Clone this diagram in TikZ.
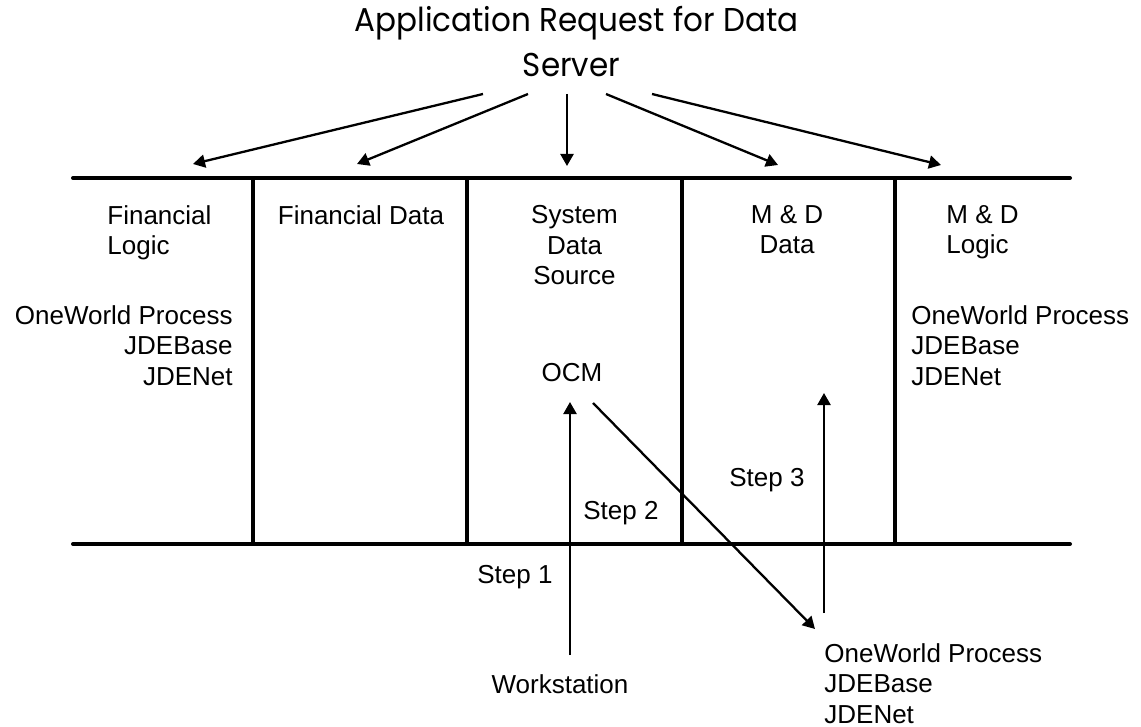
\documentclass[tikz,border=0pt]{standalone}
\usepackage{fontspec}
\setmainfont{Liberation Sans}
\newfontfamily\titlefont{Poppins}[FakeStretch=0.94]
\usetikzlibrary{arrows.meta}
\usetikzlibrary{positioning}
\tikzset{x=0.5pt, y=-0.5pt,
    every node/.style={
        inner sep=0pt,
        font=\fontsize{13}{15.25}\selectfont},
    heading/.style={
        font=\titlefont\fontsize{16.5}{19}\selectfont},
    bar/.style={
        line width=2pt,
        line cap=round},
    every edge/.style={
        draw,
        -{Triangle[length=6pt,width=6.5pt]},
        line width=1.15pt}}

\begin{document}
\begin{tikzpicture}
        \useasboundingbox (0,0) rectangle (1141,727);

        % header
        \node[heading,anchor=base] (title) at (576.5,32) {Application Request for Data};
        \node[heading,anchor=base] (server) at (571.5,77) {Server};

        % frame
        \draw[bar] (73,178) -- (1070,178);
        \draw[bar] (73,544) -- (1070,544);
        \foreach \x in {253,467,682,895}
            \draw[line width=2pt] (\x,178) -- (\x,544);

        % columns
        \node[anchor=north west,align=left] (finlogic) at (107,205) {Financial\\Logic};
        \node[anchor=north] (findata) at (361,205) {Financial Data};
        \node[anchor=north,align=center] (sysdata) at (574.5,205) {System\\Data\\Source};
        \node[anchor=north,align=center] (mddata) at (787,205) {M \& D\\Data};
        \node[anchor=north west,align=left] (mdlogic) at (946,205) {M \& D\\Logic};
        \node[anchor=north east,align=right] (owleft) at (233,305) {OneWorld Process\\JDEBase\\JDENet};
        \node[anchor=north west,align=left] (owright) at (911,305) {OneWorld Process\\JDEBase\\JDENet};
        \node[anchor=base] (ocm) at (572,381) {OCM};

        % steps
        \node[anchor=base west] (step1) at (477,583) {Step 1};
        \node[anchor=base west] (step2) at (583,519) {Step 2};
        \node[anchor=base west] (step3) at (729,486) {Step 3};
        \node[anchor=base] (ws) at (560,693) {Workstation};
        \node[anchor=north west,align=left] (owbottom) at (824,643) {OneWorld Process\\JDEBase\\JDENet};

        % request arrows
        \coordinate (s1) at (483,94);  \coordinate (t1) at (193,164);
        \coordinate (s2) at (528,94);  \coordinate (t2) at (357,164);
        \coordinate (s3) at (567,94);  \coordinate (t3) at (567,166);
        \coordinate (s4) at (606,94);  \coordinate (t4) at (778,165);
        \coordinate (s5) at (652,94);  \coordinate (t5) at (941,165);
        \foreach \i in {1,...,5}
            \draw (s\i) edge (t\i);

        % step arrows
        \coordinate (w1) at (570,655);  \coordinate (w2) at (570,402);
        \coordinate (o1) at (593,403);  \coordinate (o2) at (815,629);
        \coordinate (d1) at (824,613);  \coordinate (d2) at (824,393);
        \draw (w1) edge (w2);
        \draw (o1) edge (o2);
        \draw (d1) edge (d2);
    \end{tikzpicture}
\end{document}
